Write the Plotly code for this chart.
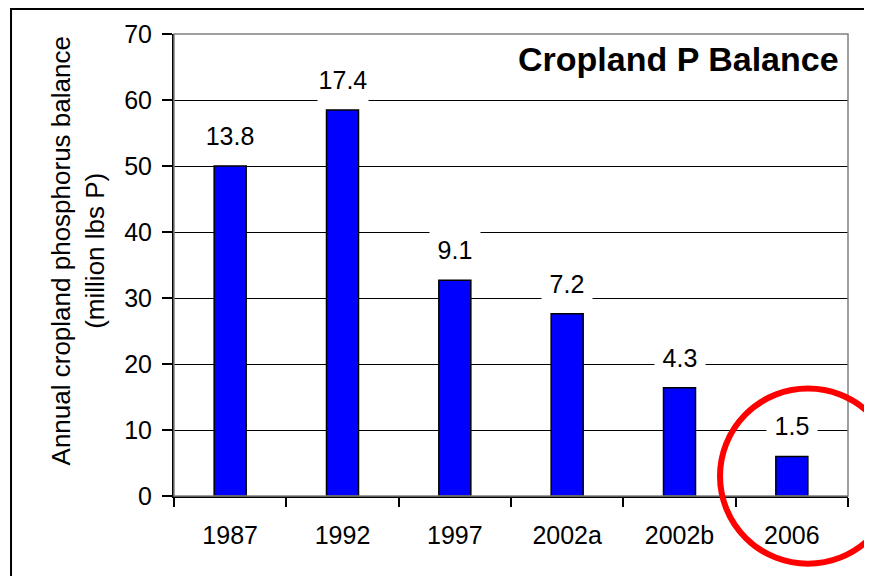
import plotly.graph_objects as go

years = ['1987', '1992', '1997', '2002a', '2002b', '2006']
balance = [50.0, 58.5, 32.7, 27.6, 16.4, 6.0]
bar_labels = ['13.8', '17.4', '9.1', '7.2', '4.3', '1.5']
y_ticks = [0, 10, 20, 30, 40, 50, 60, 70]

FONT = 'Liberation Sans, Arial, sans-serif'

fig = go.Figure(go.Bar(
    x=years,
    y=balance,
    width=0.285,
    marker=dict(color='#0000FF', line=dict(color='black', width=1.5)),
    hoverinfo='skip'
))

# value labels with white boxes that cut the gridlines
# (category axis -> place by category index)
for i, (val, lab) in enumerate(zip(balance, bar_labels)):
    fig.add_annotation(
        x=i, y=val, text=lab, showarrow=False,
        yanchor='bottom', yshift=8,
        width=50, height=42, borderpad=0,
        bgcolor='white', font=dict(size=25, color='black', family=FONT)
    )

fig.add_annotation(
    xref='paper', yref='paper', x=0.99, y=0.946,
    xanchor='right', yanchor='middle', showarrow=False,
    text='<b>Cropland P Balance</b>',
    font=dict(size=34, color='black', family=FONT)
)

fig.add_annotation(
    xref='paper', yref='paper', x=-0.142, y=0.53,
    xanchor='center', yanchor='middle', showarrow=False,
    textangle=-90,
    text='Annual cropland phosphorus balance<br>(million lbs P)',
    font=dict(size=26, color='black', family=FONT)
)

# gray plot-area border (top/right)
fig.add_shape(type='rect', xref='paper', yref='paper', x0=0, x1=1, y0=0, y1=1,
              line=dict(color='#808080', width=1.5), layer='above')
# outer frame
fig.add_shape(type='rect', xref='paper', yref='paper', x0=-0.2418, x1=1.0282,
              y0=-0.4, y1=1.0539, line=dict(color='black', width=2))
# red highlight circle
fig.add_shape(type='circle', xref='paper', yref='paper', x0=0.8101, x1=1.0712,
              y0=-0.1466, y1=0.2328, line=dict(color='#FF0000', width=6))

# the page body adds an 8 px offset, so margins are trimmed by 8 px
fig.update_layout(
    width=872, height=576,
    margin=dict(l=166, r=32, t=24, b=88),
    paper_bgcolor='white', plot_bgcolor='white',
    showlegend=False,
    font=dict(family=FONT, size=25, color='black'),
    xaxis=dict(
        type='category', categoryorder='array', categoryarray=years,
        range=[-0.5, len(years) - 0.5],
        tickson='boundaries', ticks='outside', ticklen=9,
        tickwidth=1.5, tickcolor='black', showline=True, linecolor='black',
        linewidth=2, showgrid=False, ticklabelstandoff=16, tickangle=0,
        tickfont=dict(size=25, family=FONT)
    ),
    yaxis=dict(
        range=[0, 70], tickvals=y_ticks, ticks='outside', ticklen=10,
        tickwidth=1.5, tickcolor='black', showline=True, linecolor='black',
        linewidth=2, showgrid=True, gridcolor='black', gridwidth=1.2,
        zeroline=False, ticklabelstandoff=5,
        tickfont=dict(size=25, family=FONT)
    )
)

fig.write_html('out.html')
